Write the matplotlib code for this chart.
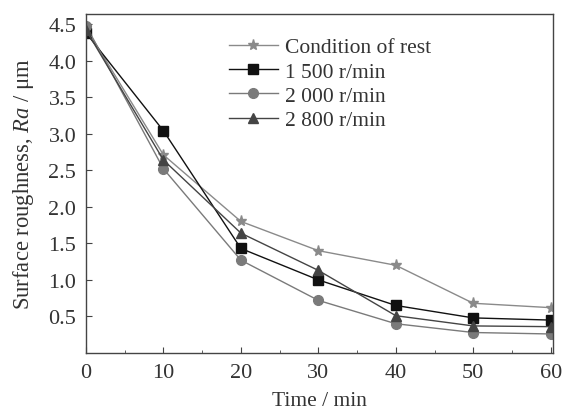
import matplotlib
matplotlib.use("Agg")
import matplotlib.pyplot as plt
from matplotlib.ticker import MultipleLocator

plt.rcParams['font.family'] = ['Liberation Serif', 'DejaVu Serif']
plt.rcParams['mathtext.fontset'] = 'custom'
plt.rcParams['mathtext.it'] = 'Liberation Serif:italic'
plt.rcParams['mathtext.rm'] = 'Liberation Serif'

time = [0, 10, 20, 30, 40, 50, 60]
rest = [4.45, 2.71, 1.80, 1.40, 1.20, 0.68, 0.62]
rpm1500 = [4.38, 3.04, 1.43, 1.00, 0.65, 0.48, 0.45]
rpm2000 = [4.48, 2.52, 1.27, 0.72, 0.40, 0.28, 0.26]
rpm2800 = [4.42, 2.64, 1.64, 1.13, 0.51, 0.37, 0.36]
labels = ["Condition of rest", "1 500 r/min", "2 000 r/min", "2 800 r/min"]

fs = 15.5
fig = plt.figure(figsize=(5.64, 4.14), dpi=100)
ax = fig.add_axes([0.1525, 0.145, 0.828, 0.819])

ax.plot(time, rest, color='#8a8a8a', marker='*', markersize=8, lw=1.0, label=labels[0])
ax.plot(time, rpm1500, color='#111111', marker='s', markersize=7, lw=1.0, label=labels[1])
ax.plot(time, rpm2000, color='#7a7a7a', marker='o', markersize=7, lw=1.0, label=labels[2])
ax.plot(time, rpm2800, color='#444444', marker='^', markersize=7, lw=1.0, label=labels[3])

ax.set_xlim(0, 60.3)
ax.set_ylim(0, 4.64)
ax.set_xticks([0, 10, 20, 30, 40, 50, 60])
ax.xaxis.set_minor_locator(MultipleLocator(5))
ax.set_yticks([0.5, 1.0, 1.5, 2.0, 2.5, 3.0, 3.5, 4.0, 4.5])
ax.set_yticklabels(['0.5', '1.0', '1.5', '2.0', '2.5', '3.0', '3.5', '4.0', '4.5'])
ax.tick_params(which='both', direction='in', labelsize=16, color='#444444', labelcolor='#333333')
ax.tick_params(which='major', length=4)
ax.tick_params(which='minor', length=2.5)
ax.tick_params(axis='x', pad=7)
ax.tick_params(axis='y', pad=7)
for s in ax.spines.values():
    s.set_color('#444444')
    s.set_linewidth(1.0)

ax.set_xlabel('Time / min', fontsize=fs, color='#333333', labelpad=7)
ax.set_ylabel(r'Surface roughness, $Ra$ / μm', fontsize=16.3, color='#333333', labelpad=9)

leg = ax.legend(loc='upper left', bbox_to_anchor=(0.287, 0.957), frameon=False, fontsize=fs,
                handlelength=2.3, labelspacing=0.2, handletextpad=0.3, borderaxespad=0)
for t in leg.get_texts():
    t.set_color('#333333')

fig.savefig('out.png', dpi=100)
